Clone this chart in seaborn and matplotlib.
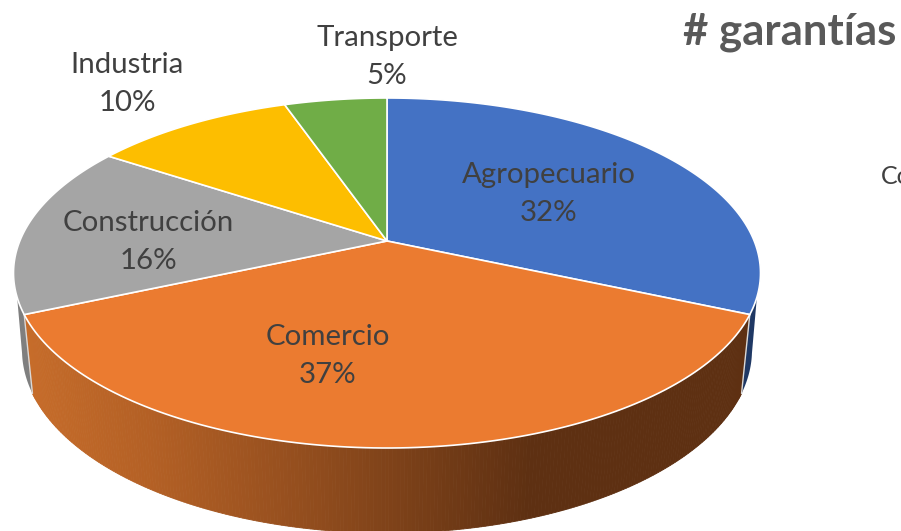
import numpy as np
import matplotlib
matplotlib.use('Agg')
import matplotlib.pyplot as plt
import seaborn as sns
from matplotlib.colors import to_rgb

# data
sectors = ['Agropecuario', 'Comercio', 'Construcción', 'Industria', 'Transporte']
shares = [31.6, 36.8, 15.9, 10.4, 5.3]
title = '# garantías'

sns.set_theme(style='white')
plt.rcParams['font.family'] = ['Lato', 'DejaVu Sans']

colors = sns.color_palette(['#4472C4', '#EB7B30', '#A5A5A5', '#FDBE00', '#70AD47'])
text_color = '#404040'

# the disc seen in perspective, in picture pixels
cx, cy, rx, ry = 387, 273, 373.5, 175
low_cy, low_rx, low_ry = 350, 365, 183
tilt = (cy - 241) / ry


def top_face(theta):
    # theta runs clockwise from 12 o'clock on the flat disc
    u, v = np.sin(theta), np.cos(theta)
    den = 1 + tilt * v
    return cx + rx * u * np.sqrt(1 - tilt ** 2) / den, cy - ry * (v + tilt) / den


def screen_angle(theta):
    x, y = top_face(theta)
    return np.arctan2((cy - y) / ry, (x - cx) / rx)


def rim(phi, low=False):
    if low:
        return cx + low_rx * np.cos(phi), low_cy - low_ry * np.sin(phi)
    return cx + rx * np.cos(phi), cy - ry * np.sin(phi)


edges = np.cumsum([0] + shares) / 100 * 2 * np.pi

fig, ax = plt.subplots(figsize=(9.01, 5.31), dpi=100)
fig.subplots_adjust(0, 0, 1, 1)
ax.set_xlim(0, 901)
ax.set_ylim(531, 0)
ax.axis('off')

# side wall of the front slice, shaded left to right
phi_right = screen_angle(edges[1])
phi_left = screen_angle(edges[2])
stops_x = [25, 150, 300, 530, 745]
stops_c = np.array([to_rgb(c) for c in ['#C66C2A', '#B36025', '#944E1E', '#5E3012', '#5E3012']])
steps = np.linspace(phi_right, phi_left, 260)
for a, b in zip(steps[:-1], steps[1:]):
    x0, y0 = rim(a)
    x1, y1 = rim(b)
    x2, y2 = rim(b, low=True)
    x3, y3 = rim(a, low=True)
    mid = (x0 + x1) / 2
    col = [np.interp(mid, stops_x, stops_c[:, i]) for i in range(3)]
    ax.fill([x0, x1, x2, x3], [y0, y1, y2, y3], color=col, lw=0.6, zorder=1)

# slivers of the blue and grey walls behind the front slice
for start, top_end, low_end, col in [(phi_right, np.radians(-8), np.radians(-1), '#1F3864'),
                                     (phi_left, np.radians(-172), np.radians(-179), '#7F7F7F')]:
    t = np.linspace(start, top_end, 20)
    l = np.linspace(low_end, start, 20)
    xs = np.r_[rim(t)[0], rim(l, low=True)[0]]
    ys = np.r_[rim(t)[1], rim(l, low=True)[1]]
    ax.fill(xs, ys, color=col, lw=0, zorder=0.5)
    x0, y0 = rim(start)
    x1, y1 = rim(start, low=True)
    ax.plot([x0, x1], [y0, y1], color='#D9D9D9', lw=1, zorder=1.5)

# top face
for i, col in enumerate(colors):
    theta = np.linspace(edges[i], edges[i + 1], 120)
    x, y = top_face(theta)
    ax.fill(np.r_[cx, x], np.r_[241, y], facecolor=col, edgecolor='white', lw=1.2,
            joinstyle='round', zorder=2)

label_pos = [(549, 194), (328, 356), (148, 242), (127, 84), (387, 57)]
for name, share, (px, py) in zip(sectors, shares, label_pos):
    ax.text(px, py, f'{name}\n{share:.0f}%', ha='center', va='center', fontsize=21.2,
            color=text_color, linespacing=1.56, zorder=3)

ax.text(683, 32, title, ha='left', va='center', fontsize=31.5, fontweight='bold', color='#595959')
ax.text(881, 177, 'Co', ha='left', va='center', fontsize=18, color=text_color)

fig.savefig('out.png', dpi=100)
